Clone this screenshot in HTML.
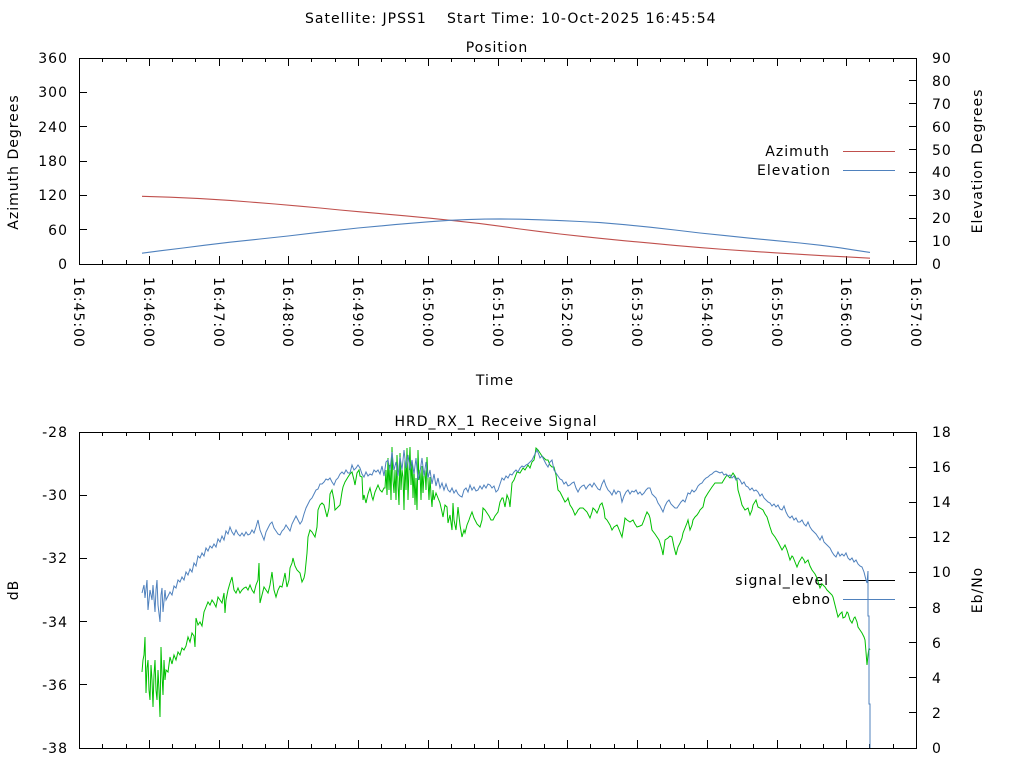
<!DOCTYPE html>
<html>
<head>
<meta charset="utf-8">
<style>
html,body{margin:0;padding:0;background:#fff;}
svg{display:block;}
text{font-family:"DejaVu Sans","Liberation Sans",sans-serif;font-size:14px;letter-spacing:1px;fill:#000;}
</style>
</head>
<body>
<svg width="1024" height="768" viewBox="0 0 1024 768" xmlns="http://www.w3.org/2000/svg">
<rect x="0" y="0" width="1024" height="768" fill="#fff"/>

<!-- Titles -->
<text x="305" y="23">Satellite: JPSS1</text>
<text x="447" y="23">Start Time: 10-Oct-2025 16:45:54</text>
<text x="497" y="52" text-anchor="middle">Position</text>
<text x="495" y="385" text-anchor="middle">Time</text>
<text x="496" y="426" text-anchor="middle">HRD_RX_1 Receive Signal</text>

<!-- Axis labels -->
<text transform="translate(18,162) rotate(-90)" text-anchor="middle">Azimuth Degrees</text>
<text transform="translate(982,161) rotate(-90)" text-anchor="middle">Elevation Degrees</text>
<text transform="translate(18,590) rotate(-90)" text-anchor="middle">dB</text>
<text transform="translate(982,590) rotate(-90)" text-anchor="middle">Eb/No</text>

<!-- Top plot left tick labels -->
<g text-anchor="end">
<text x="68" y="63">360</text>
<text x="68" y="97">300</text>
<text x="68" y="132">240</text>
<text x="68" y="166">180</text>
<text x="68" y="200">120</text>
<text x="68" y="235">60</text>
<text x="68" y="269">0</text>
</g>
<!-- Top plot right tick labels -->
<g>
<text x="932" y="63">90</text>
<text x="932" y="86">80</text>
<text x="932" y="109">70</text>
<text x="932" y="132">60</text>
<text x="932" y="155">50</text>
<text x="932" y="177">40</text>
<text x="932" y="200">30</text>
<text x="932" y="223">20</text>
<text x="932" y="246">10</text>
<text x="932" y="269">0</text>
</g>

<!-- X tick labels (rotated) -->
<g>
<text transform="translate(74,277) rotate(90)">16:45:00</text>
<text transform="translate(144,277) rotate(90)">16:46:00</text>
<text transform="translate(214,277) rotate(90)">16:47:00</text>
<text transform="translate(283,277) rotate(90)">16:48:00</text>
<text transform="translate(353,277) rotate(90)">16:49:00</text>
<text transform="translate(423,277) rotate(90)">16:50:00</text>
<text transform="translate(493,277) rotate(90)">16:51:00</text>
<text transform="translate(562,277) rotate(90)">16:52:00</text>
<text transform="translate(632,277) rotate(90)">16:53:00</text>
<text transform="translate(702,277) rotate(90)">16:54:00</text>
<text transform="translate(772,277) rotate(90)">16:55:00</text>
<text transform="translate(841,277) rotate(90)">16:56:00</text>
<text transform="translate(911,277) rotate(90)">16:57:00</text>
</g>

<!-- Bottom plot left tick labels -->
<g text-anchor="end">
<text x="68" y="437">-28</text>
<text x="68" y="500">-30</text>
<text x="68" y="563">-32</text>
<text x="68" y="627">-34</text>
<text x="68" y="690">-36</text>
<text x="68" y="753">-38</text>
</g>
<!-- Bottom plot right tick labels -->
<g>
<text x="932" y="437">18</text>
<text x="932" y="472">16</text>
<text x="932" y="507">14</text>
<text x="932" y="542">12</text>
<text x="932" y="577">10</text>
<text x="932" y="613">8</text>
<text x="932" y="648">6</text>
<text x="932" y="683">4</text>
<text x="932" y="718">2</text>
<text x="932" y="753">0</text>
</g>

<!-- Legends -->
<g text-anchor="end">
<text x="830" y="156">Azimuth</text>
<text x="831" y="175">Elevation</text>
<text x="829" y="585">signal_level</text>
<text x="831" y="604">ebno</text>
</g>

<g shape-rendering="crispEdges" fill="none" stroke-width="1">
<!-- legend lines -->
<path d="M843,151.5H895" stroke="#c0504d"/>
<path d="M843,170.5H895" stroke="#4f81bd"/>
<path d="M843,580.5H895" stroke="#000"/>
<path d="M843,599.5H895" stroke="#4f81bd"/>

<!-- Borders -->
<rect x="79.5" y="58.5" width="837" height="206" stroke="#000"/>
<rect x="79.5" y="432.5" width="837" height="316" stroke="#000"/>

<!-- Top plot x ticks -->
<path stroke="#000" d="
M149.5,264v-8M219.5,264v-8M288.5,264v-8M358.5,264v-8M428.5,264v-8M498.5,264v-8M567.5,264v-8M637.5,264v-8M707.5,264v-8M777.5,264v-8M846.5,264v-8
M149.5,58v8M219.5,58v8M288.5,58v8M358.5,58v8M428.5,58v8M498.5,58v8M567.5,58v8M637.5,58v8M707.5,58v8M777.5,58v8M846.5,58v8
M102.5,264v-4M126.5,264v-4M172.5,264v-4M195.5,264v-4M242.5,264v-4M265.5,264v-4M311.5,264v-4M335.5,264v-4M381.5,264v-4M405.5,264v-4M451.5,264v-4M474.5,264v-4M521.5,264v-4M544.5,264v-4M590.5,264v-4M614.5,264v-4M660.5,264v-4M684.5,264v-4M730.5,264v-4M753.5,264v-4M800.5,264v-4M823.5,264v-4M869.5,264v-4M893.5,264v-4
M102.5,58v4M126.5,58v4M172.5,58v4M195.5,58v4M242.5,58v4M265.5,58v4M311.5,58v4M335.5,58v4M381.5,58v4M405.5,58v4M451.5,58v4M474.5,58v4M521.5,58v4M544.5,58v4M590.5,58v4M614.5,58v4M660.5,58v4M684.5,58v4M730.5,58v4M753.5,58v4M800.5,58v4M823.5,58v4M869.5,58v4M893.5,58v4
"/>
<!-- Top plot y ticks -->
<path stroke="#000" d="
M79,92.5h8M79,126.5h8M79,161.5h8M79,195.5h8M79,229.5h8
M916,80.5h-7M916,103.5h-7M916,126.5h-7M916,149.5h-7M916,172.5h-7M916,195.5h-7M916,218.5h-7M916,241.5h-7
"/>

<!-- Bottom plot x ticks -->
<path stroke="#000" d="
M149.5,748v-8M219.5,748v-8M288.5,748v-8M358.5,748v-8M428.5,748v-8M498.5,748v-8M567.5,748v-8M637.5,748v-8M707.5,748v-8M777.5,748v-8M846.5,748v-8
M149.5,432v8M219.5,432v8M288.5,432v8M358.5,432v8M428.5,432v8M498.5,432v8M567.5,432v8M637.5,432v8M707.5,432v8M777.5,432v8M846.5,432v8
M102.5,748v-4M126.5,748v-4M172.5,748v-4M195.5,748v-4M242.5,748v-4M265.5,748v-4M311.5,748v-4M335.5,748v-4M381.5,748v-4M405.5,748v-4M451.5,748v-4M474.5,748v-4M521.5,748v-4M544.5,748v-4M590.5,748v-4M614.5,748v-4M660.5,748v-4M684.5,748v-4M730.5,748v-4M753.5,748v-4M800.5,748v-4M823.5,748v-4M869.5,748v-4M893.5,748v-4
M102.5,432v4M126.5,432v4M172.5,432v4M195.5,432v4M242.5,432v4M265.5,432v4M311.5,432v4M335.5,432v4M381.5,432v4M405.5,432v4M451.5,432v4M474.5,432v4M521.5,432v4M544.5,432v4M590.5,432v4M614.5,432v4M660.5,432v4M684.5,432v4M730.5,432v4M753.5,432v4M800.5,432v4M823.5,432v4M869.5,432v4M893.5,432v4
"/>
<!-- Bottom plot y ticks -->
<path stroke="#000" d="
M79,495.5h8M79,558.5h8M79,621.5h8M79,684.5h8
M916,467.5h-7M916,502.5h-7M916,537.5h-7M916,572.5h-7M916,607.5h-7M916,642.5h-7M916,677.5h-7M916,712.5h-7
"/>
</g>

<!-- Top plot data -->
<g fill="none" stroke-width="1.1">
<polyline stroke="#c0504d" points="142,196.3 170,197.2 200,198.6 230,200.4 250,202 275,204 300,206.2 320,208 340,210 360,211.8 380,213.6 405,215.8 430,218.2 455,220.8 480,223.6 500,226.2 520,229 540,231.6 560,234 580,236.2 600,238.3 625,240.8 650,243.1 675,245.4 700,247.6 725,249.5 750,251.2 775,252.8 800,254.3 825,255.8 850,257.1 870,258.2"/>
<polyline stroke="#4f81bd" points="142,253.2 160,250.8 183,248 205,245.2 230,242.2 260,239 288,236 320,232.2 358,228 395,224.6 430,221.7 450,220.3 467,219.6 485,219.1 500,218.9 520,219.2 540,219.8 560,220.6 580,221.5 600,222.6 625,224.7 650,227.2 675,230 700,233 725,235.6 750,238.2 775,240.6 800,243 820,245.2 840,247.8 855,250.2 870,252.4"/>
</g>

<!-- Bottom plot data -->
<g fill="none" stroke-width="1">
<polyline stroke="#00c000" points="142,672 143,660 144,655 145,637 146,693 147,668 148,660 149,690 150,700 151,665 152,680 153,707 154,675 155,660 156,690 157,700 158,670 159,690 160,717 161,647 162,675 163,695 164,660 165,680 166,670 168,672 170,657 172,664 174,655 176,660 178,652 180,655 182,648 184,650 186,646 188,637 190,642 192,633 194,636 195,647 196,618 198,625 200,622 202,626 204,612 206,607 208,602 210,605 212,600 214,603 216,607 218,597 220,600 222,603 224,593 225,613 226,600 228,590 230,583 232,577 234,590 236,593 238,588 240,593 242,590 244,588 246,587 248,590 250,585 252,590 254,593 256,585 258,580 259,563 260,603 262,595 264,587 266,590 268,593 270,585 272,572 274,590 276,597 278,590 280,586 282,587 284,578 285,573 287,587 289,580 290,568 292,563 293,558 295,566 297,570 300,573 302,582 304,578 305,573 307,553 308,537 310,530 312,532 315,537 317,527 318,510 320,505 322,503 324,505 327,517 329,508 330,494 332,490 334,500 335,510 337,508 340,505 342,492 343,487 345,482 348,477 350,474 352,472 354,480 355,485 357,473 359,470 360,476 362,477 363,500 364,495 366,503 368,494 370,488 372,497 373,500 375,492 378,485 380,490 382,492 384,488 385,488 386,470 387,495 388,458 389,490 390,465 391,500 392,447 393,480 394,493 395,470 396,500 397,455 398,485 399,505 400,453 401,490 402,470 403,477 404,510 405,460 406,490 407,448 408,500 409,470 410,447 411,485 412,460 413,498 414,470 415,505 416,478 417,510 418,450 419,480 420,470 421,500 422,466 423,493 424,475 425,470 426,490 427,457 428,480 429,500 430,477 431,495 432,507 433,490 434,500 436,493 438,498 440,503 442,512 443,517 445,505 447,507 448,523 450,515 452,530 453,503 454,520 456,530 458,507 460,525 462,537 464,530 465,533 467,525 469,520 470,517 472,512 474,518 475,520 477,524 480,527 482,520 483,508 485,510 487,513 489,516 491,520 493,520 495,516 498,512 500,502 502,498 503,498 505,507 507,495 509,500 510,507 512,483 514,480 517,472 520,473 523,468 525,470 528,465 530,468 532,462 534,460 535,455 536,448 538,450 540,453 542,456 544,458 546,460 548,460 550,465 552,467 554,467 556,475 557,483 558,490 560,492 562,496 563,498 565,502 567,500 568,498 570,505 572,508 573,510 575,515 577,512 578,510 580,508 583,508 585,510 587,512 589,516 590,518 592,512 593,508 595,510 597,513 599,508 600,505 602,503 604,510 605,518 607,520 610,525 612,530 614,527 617,525 618,527 620,532 622,537 624,525 625,518 627,520 630,522 633,520 635,524 637,527 640,526 642,525 644,520 645,517 647,512 649,515 650,518 652,530 655,534 657,537 659,540 660,543 662,550 663,555 665,540 668,538 670,536 672,537 674,547 676,555 678,547 680,543 682,538 683,533 685,528 687,523 688,520 690,530 692,525 693,520 695,517 697,515 699,512 700,510 703,507 705,498 708,493 710,490 712,487 715,483 718,483 722,483 725,478 727,475 730,478 733,473 735,476 737,480 738,490 740,497 742,505 745,510 748,508 750,515 752,510 753,505 756,500 758,507 760,508 763,510 765,514 767,517 770,527 772,533 775,537 778,542 780,546 782,550 785,545 787,550 790,560 792,556 793,557 795,562 797,567 799,562 802,557 804,560 805,563 808,560 810,566 812,570 815,574 817,578 819,585 820,588 822,584 825,587 827,590 830,593 832,595 833,597 835,605 837,613 838,617 840,614 842,612 843,618 845,617 847,612 848,613 850,620 852,623 854,618 855,617 857,622 858,627 860,630 862,633 864,637 865,640 866,652 867,665 868,655 869,648 870,650"/>
<polyline stroke="#4f81bd" points="142,593 144,585 145,598 147,580 148,610 150,590 152,600 153,585 155,612 156,590 157,580 158,605 160,622 161,595 162,588 163,612 165,590 166,600 168,596 170,592 172,595 174,586 176,588 178,580 180,582 182,577 184,580 186,572 188,575 190,569 192,572 194,563 196,566 198,556 200,558 202,553 204,556 206,548 208,551 210,546 212,548 214,544 216,547 218,539 220,542 222,536 224,540 226,531 228,534 230,527 232,532 234,535 236,530 238,534 240,536 242,533 244,536 246,532 248,535 250,534 252,530 254,533 256,527 258,520 260,530 262,535 264,540 266,532 268,528 270,524 272,522 274,528 276,531 278,534 280,535 282,531 284,529 286,525 288,528 290,531 292,524 294,520 296,516 298,520 300,524 302,521 304,514 306,508 308,504 310,500 312,498 314,494 316,490 318,489 320,484 322,484 324,482 326,479 328,480 330,478 332,482 334,485 336,480 338,478 340,474 342,472 344,474 346,470 348,473 350,473 352,465 354,470 356,468 358,465 360,468 362,474 364,477 366,472 368,476 370,474 372,475 374,470 376,472 378,470 380,474 382,466 384,476 386,462 388,460 390,470 392,452 394,470 396,462 398,476 400,457 402,470 404,450 406,468 408,455 410,470 412,460 414,474 416,458 418,480 420,472 422,458 424,476 426,462 428,478 430,470 432,484 434,474 436,486 438,478 440,488 442,483 444,490 446,484 448,490 450,492 452,488 454,493 456,490 458,494 460,496 462,497 464,490 466,488 468,492 470,485 472,490 474,487 476,491 478,490 480,486 482,489 484,485 486,488 488,484 490,485 492,488 494,486 496,492 498,490 500,484 502,478 504,480 506,476 508,478 510,474 512,475 514,472 516,470 518,472 520,468 522,466 524,467 526,465 528,464 530,462 532,460 534,456 536,452 537,450 539,455 540,458 542,456 544,460 546,464 548,467 550,462 552,460 554,470 556,473 558,476 560,479 562,480 564,484 566,482 568,486 570,485 572,483 574,482 576,488 578,492 580,488 582,486 584,485 586,489 588,486 590,484 592,487 594,483 596,486 598,489 600,490 602,484 604,480 606,486 608,490 610,492 612,495 614,490 616,494 618,491 620,492 622,502 624,496 626,492 628,490 630,494 632,491 634,492 636,490 638,494 640,492 642,495 644,493 646,490 648,488 650,488 652,494 654,496 656,498 658,503 660,506 662,510 663,512 665,506 667,502 669,500 671,504 673,506 675,508 677,508 679,505 681,502 683,500 685,502 687,496 688,493 690,494 692,490 694,492 696,490 698,486 700,484 702,483 704,480 706,478 708,477 710,475 712,474 714,472 716,471 718,472 720,473 722,472 724,475 726,474 728,476 730,475 732,478 734,476 736,480 738,478 740,480 742,484 744,482 746,486 748,487 750,490 752,488 754,491 756,490 758,492 760,496 762,494 764,498 766,500 768,502 770,503 772,506 774,504 776,507 778,505 780,509 782,510 784,506 786,512 788,516 790,518 792,516 794,520 796,518 798,522 800,522 802,520 804,524 806,526 808,522 810,527 812,530 814,532 816,534 818,537 820,540 822,536 824,542 826,544 828,546 830,548 832,552 834,555 836,557 838,552 840,556 842,554 844,556 846,553 848,558 850,560 852,558 854,562 856,560 858,564 860,566 862,567 864,572 866,580 867,583 868,571 868,616 869,616 869,704 870,704 870,748"/>
</g>
</svg>
</body>
</html>
